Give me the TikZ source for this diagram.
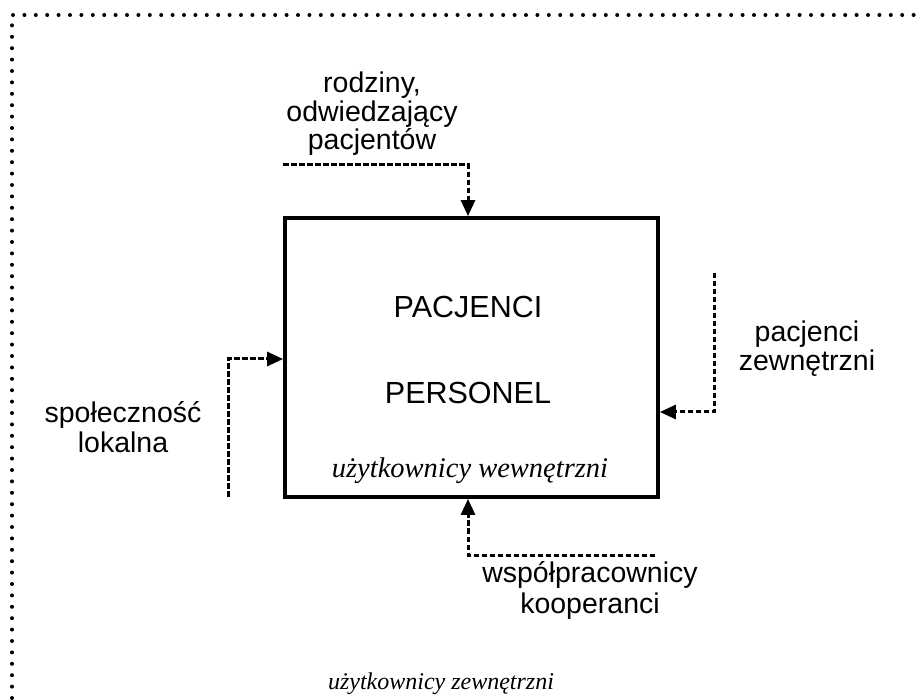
\documentclass[tikz,border=0pt]{standalone}
\usepackage{fontspec}
\setmainfont{Liberation Serif}
\newfontfamily\arial{Liberation Sans}
\usetikzlibrary{arrows.meta,calc}
\begin{document}
\begin{tikzpicture}[x=1pt,y=-1pt,
  sanslbl/.style={anchor=base,font=\arial\fontsize{28.5}{30}\selectfont,inner sep=0pt},
  biglbl/.style={anchor=base,font=\arial\fontsize{30.5}{32}\selectfont,inner sep=0pt},
  itlbl/.style={anchor=base,font=\itshape\fontsize{28.5}{30}\selectfont,inner sep=0pt},
  flow/.style={line width=3pt,dash pattern=on 5.5pt off 2.5pt,
    -{Triangle[length=16pt,width=14pt,sep=0pt]}},
  border/.style={line width=4pt,line cap=round,dash pattern=on 0pt off 11.4pt}]
\useasboundingbox (0,0) rectangle (919,700);
% dotted outer frame
\coordinate (fbl) at (12,698);
\coordinate (ftl) at (12,15);
\coordinate (ftr) at (919,15);
\draw[border] (fbl) -- (ftl) -- (ftr);
% main box
\node[draw,line width=3.8pt,minimum width=373pt,minimum height=279pt,inner sep=0pt] (box) at (471.5,357.5) {};
\node[biglbl] (pac) at (468,318) {PACJENCI};
\node[biglbl] (per) at (468,404) {PERSONEL};
\node[itlbl] (uw) at (470,478) {użytkownicy wewnętrzni};
% top
\node[sanslbl] (t1) at (372,93) {rodziny,};
\node[sanslbl] (t2) at (372,122) {odwiedzający};
\node[sanslbl] (t3) at (372,150) {pacjentów};
\coordinate (ts) at (283,165);
\draw[flow] (ts) -| ($(box.north)+(-3.5,0)$);
% left
\node[sanslbl] (l1) at (123,423) {społeczność};
\node[sanslbl] (l2) at (123,453) {lokalna};
\coordinate (ls) at (228,497);
\draw[flow] (ls) |- (box.west |- 0,359);
% right
\node[sanslbl] (r1) at (807,342) {pacjenci};
\node[sanslbl] (r2) at (807,371) {zewnętrzni};
\coordinate (rs) at (714,273);
\draw[flow] (rs) |- (box.east |- 0,412);
% bottom
\node[sanslbl] (b1) at (590,583) {współpracownicy};
\node[sanslbl] (b2) at (590,613) {kooperanci};
\coordinate (bs) at (655,555);
\draw[flow] (bs) -| ($(box.south)+(-3.5,0)$);
% outer label
\node[itlbl,font=\itshape\fontsize{24}{28}\selectfont] (uz) at (441,689) {użytkownicy zewnętrzni};
\end{tikzpicture}
\end{document}
